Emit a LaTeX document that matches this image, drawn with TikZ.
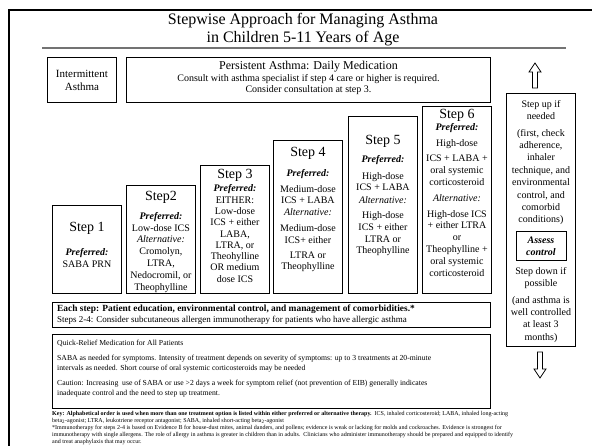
\documentclass[tikz,border=0pt]{standalone}
\usepackage{fontspec}
\setmainfont{Liberation Serif}
\usetikzlibrary{positioning}
\begin{document}
\begin{tikzpicture}[x=1pt,y=-1pt,
    frame/.style={draw,line width=0.9pt,inner sep=0pt},
    stepbox/.style={frame,anchor=south west,minimum width=69pt},
    steptext/.style={anchor=north,align=center,inner sep=0pt,font=\fontsize{10}{11.8}\selectfont},
    sidetext/.style={anchor=north,align=center,inner sep=0pt,font=\fontsize{10}{12.4}\selectfont},
    notetext/.style={anchor=north west,align=left,inner sep=0pt},
    hollowarrow/.style={draw,line width=0.8pt,line join=miter}]
  \def\stepbottom{294}
  \def\preflabel{\textbf{\textit{Preferred:}}}
  \def\altlabel{\textit{Alternative:}}
  \def\stephead#1{{\fontsize{14}{16}\selectfont #1}}

  \useasboundingbox (0,0) rectangle (592,446);
  \begin{scope}
    \clip (0,0) rectangle (592,446);
    \draw[line width=2.8pt] (9,10) rectangle (640,480);
  \end{scope}

  % title
  \node[align=center,inner sep=0pt,font=\fontsize{16}{18}\selectfont] (title) at (303,30)
    {Stepwise Approach for Managing Asthma\\in Children 5-11 Years of Age};
  \draw[black!55,line width=1.2pt] (42,48) -- (566,48);

  \node[frame,anchor=north west,minimum width=69pt,minimum height=45pt,align=center,
    font=\fontsize{11}{13}\selectfont] (intermittent) at (47,57) {Intermittent\\Asthma};
  \node[frame,anchor=north west,minimum width=364pt,minimum height=45pt] (persistent) at (126,57) {};
  \node[anchor=north,align=center,inner sep=0pt,font=\fontsize{10}{11.5}\selectfont] (persistenttext)
    at ([yshift=-4pt]persistent.north)
    {{\fontsize{12}{14}\selectfont Persistent Asthma: Daily Medication}\\
     Consult with asthma specialist if step 4 care or higher is required.\\
     Consider consultation at step 3.};

  % steps
  \foreach \n/\x/\top in {1/52/206,2/126/186,3/200/166,4/273/141,5/348/117,6/422/107}
    \node[stepbox,minimum height={\stepbottom-\top}] (step\n) at (\x,\stepbottom) {};

  \node[steptext] (step1text) at ([yshift=-17pt]step1.north)
    {\stephead{Step 1}\\[12pt]\preflabel\\SABA PRN};
  \node[steptext] (step2text) at ([yshift=-6pt]step2.north)
    {\stephead{Step2}\\[7pt]\preflabel\\Low-dose ICS\\\altlabel\\Cromolyn,\\LTRA,\\Nedocromil, or\\Theophylline};
  \node[steptext,font=\fontsize{10}{11.3}\selectfont] (step3text) at ([yshift=-4pt]step3.north)
    {\stephead{Step 3}\\[2pt]\preflabel\\EITHER:\\Low-dose\\ICS + either\\LABA,\\LTRA, or\\Theohylline\\OR medium\\dose ICS};
  \node[steptext] (step4text) at ([yshift=-7pt]step4.north)
    {\stephead{Step 4}\\[8pt]\preflabel\\[4pt]Medium-dose\\ICS + LABA\\\altlabel\\[4pt]Medium-dose\\ICS+ either\\[3pt]LTRA or\\Theophylline};
  \node[steptext] (step5text) at ([yshift=-19pt]step5.north)
    {\stephead{Step 5}\\[6pt]\preflabel\\[5pt]High-dose\\ICS + LABA\\[1pt]\altlabel\\[3pt]High-dose\\ICS + either\\LTRA or\\Theophylline};
  \node[steptext] (step6text) at ([yshift=-3pt]step6.north)
    {\stephead{Step 6}\\[0pt]\preflabel\\[4pt]High-dose\\[4pt]ICS + LABA +\\oral systemic\\corticosteroid\\[4pt]\altlabel\\[4pt]High-dose ICS\\+ either LTRA\\or\\Theophylline +\\oral systemic\\corticosteroid};

  % right column
  \draw[hollowarrow] (535,63) -- (541,72) -- (537.5,72) -- (537.5,88) -- (532.5,88)
    -- (532.5,72) -- (529,72) -- cycle;
  \node[frame,anchor=north west,minimum width=69pt,minimum height=253pt] (sidebox) at (506,93) {};
  \node[sidetext] (stepup) at ([yshift=-7pt]sidebox.north)
    {Step up if\\needed\\[4pt](first, check\\adherence,\\inhaler\\technique, and\\environmental\\control, and\\comorbid\\conditions)};
  \node[frame,below=6pt of stepup,minimum width=50pt,minimum height=29pt,align=center,
    font=\fontsize{10}{12}\selectfont\bfseries\itshape] (assess) {Assess\\control};
  \node[sidetext,below=6pt of assess] (stepdown)
    {Step down if\\possible\\[4pt](and asthma is\\well controlled\\at least 3\\months)};
  \draw[hollowarrow] (537.5,352) -- (542.5,352) -- (542.5,369) -- (546,369) -- (540,378)
    -- (534,369) -- (537.5,369) -- cycle;

  % bottom boxes
  \node[frame,anchor=north west,minimum width=438pt,minimum height=25pt] (eachstep) at (52,302) {};
  \node[notetext,font=\fontsize{9}{11}\selectfont] (eachsteptext)
    at ([xshift=5pt,yshift=-3pt]eachstep.north west)
    {{\fontsize{9.4}{11}\selectfont\bfseries Each step: Patient education, environmental control, and management of comorbidities.*}\\
     Steps 2-4: Consider subcutaneous allergen immunotherapy for patients who have allergic asthma};
  \node[frame,anchor=north west,minimum width=438pt,minimum height=74pt] (quickrelief) at (52,334) {};
  \node[notetext,font=\fontsize{7.7}{10.5}\selectfont] (quickrelieftext)
    at ([xshift=5pt,yshift=-6pt]quickrelief.north west)
    {Quick-Relief Medication for All Patients\\[4pt]
     SABA as needed for symptoms. Intensity of treatment depends on severity of symptoms: up to 3 treatments at 20-minute\\
     intervals as needed. Short course of oral systemic corticosteroids may be needed\\[4pt]
     Caution: Increasing\ \ use of SABA or use >2 days a week for symptom relief (not prevention of EIB) generally indicates\\
     inadequate control and the need to step up treatment.};

  \node[notetext,font=\fontsize{6}{7}\selectfont] (keynote) at (52,411)
    {\textbf{Key: Alphabetical order is used when more than one treatment option is listed within either preferred or alternative therapy.}\ \ ICS, inhaled corticosteroid; LABA, inhaled long-acting\\
     beta\textsubscript{2}-agonist; LTRA, leukotriene receptor antagonist; SABA, inhaled short-acting beta\textsubscript{2}-agonist\\
     *Immunotherapy for steps 2-4 is based on Evidence B for house-dust mites, animal danders, and pollens; evidence is weak or lacking for molds and cockroaches. Evidence is strongest for\\
     immunotherapy with single allergens. The role of allergy in asthma is greater in children than in adults.\ \ Clinicians who administer immunotherapy should be prepared and equipped to identify\\
     and treat anaphylaxis that may occur.};
\end{tikzpicture}
\end{document}
